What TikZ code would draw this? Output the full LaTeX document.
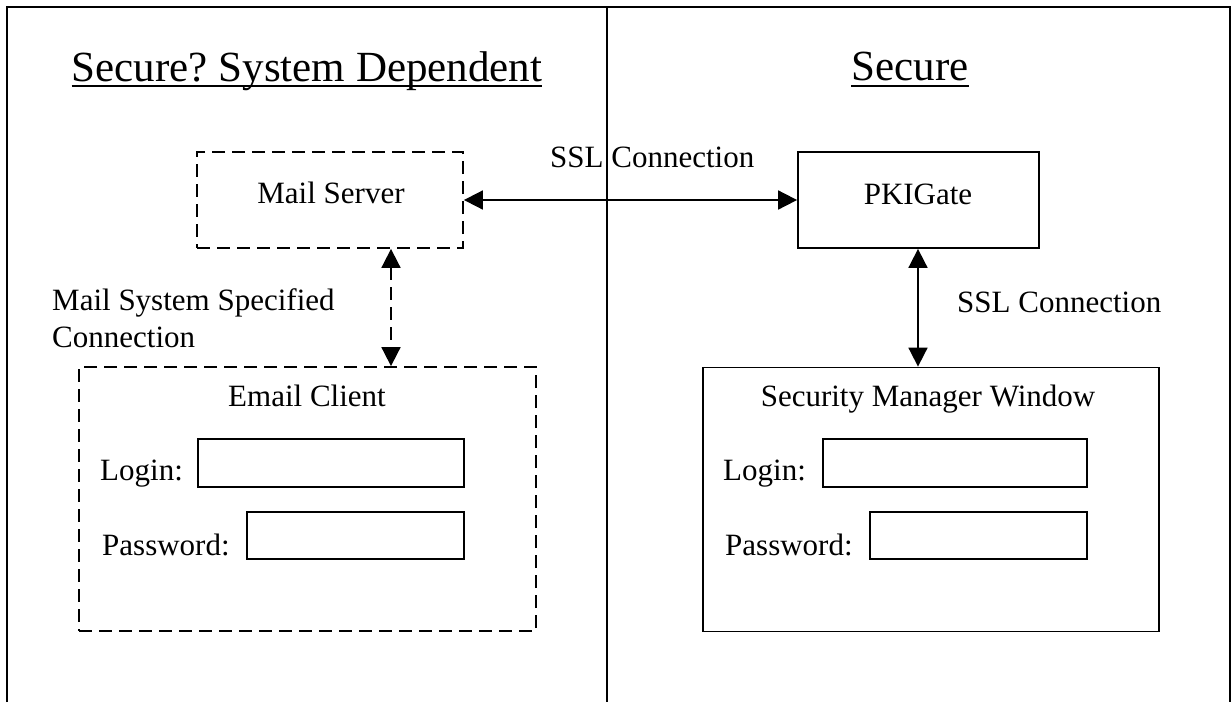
\documentclass[tikz,border=0pt]{standalone}
\usepackage{fontspec}
\setmainfont{Liberation Serif}
\usetikzlibrary{arrows.meta}
\frenchspacing

\tikzset{
  frameline/.style={line width=1.8pt},
  box/.style={draw, line width=1.8pt, rectangle, inner sep=0pt},
  dashbox/.style={box, dash pattern=on 13pt off 7pt},
  field/.style={draw, line width=1.8pt, rectangle, inner sep=0pt},
  conn/.style={line width=1.8pt, {Triangle[length=19pt,width=19pt]}-{Triangle[length=19pt,width=19pt]}},
  dashconn/.style={conn, dash pattern=on 13pt off 7pt},
  bodytext/.style={inner sep=0pt, font=\fontsize{31}{37}\selectfont},
  titletext/.style={inner sep=0pt, font=\fontsize{43}{50}\selectfont},
}

\begin{document}
\begin{tikzpicture}[x=1pt, y=-1pt]
  \useasboundingbox (0,0) rectangle (1231,702);

  % outer frame, open at the bottom, and the divider between the halves
  \draw[frameline] (7,702) -- (7,7) -- (1230,7) -- (1230,702);
  \draw[frameline] (607,7) -- (607,702);

  % headings
  \node[titletext, anchor=base] (t1) at (307,81) {Secure? System Dependent};
  \draw[line width=1.8pt] ([yshift=-5pt]t1.base west) -- ([yshift=-5pt]t1.base east);
  \node[titletext, anchor=base] (t2) at (910,80) {Secure};
  \draw[line width=1.8pt] ([yshift=-6pt]t2.base west) -- ([yshift=-6pt]t2.base east);

  % upper boxes
  \node[dashbox, minimum width=266pt, minimum height=96pt] (mail) at (330,200) {};
  \node[bodytext, anchor=base] (mailtxt) at (331,203) {Mail Server};
  \node[box, minimum width=241pt, minimum height=96pt] (pki) at (918.5,200) {};
  \node[bodytext, anchor=base] (pkitxt) at (918,204) {PKIGate};

  % login windows
  \node[dashbox, minimum width=457pt, minimum height=264pt] (email) at (307.5,499) {};
  \node[bodytext, anchor=base] (emailtxt) at (307,406) {Email Client};
  \node[bodytext, anchor=base west] (lg1) at (100,480) {Login:};
  \node[field, minimum width=266pt, minimum height=48pt] (lgf1) at (331,463) {};
  \node[bodytext, anchor=base west] (pw1) at (102,555) {Password:};
  \node[field, minimum width=217pt, minimum height=47pt] (pwf1) at (355.5,535.5) {};

  \node[box, minimum width=456pt, minimum height=264pt] (smw) at (931,499.5) {};
  \node[bodytext, anchor=base] (smwtxt) at (928,406) {Security Manager Window};
  \node[bodytext, anchor=base west] (lg2) at (723,480) {Login:};
  \node[field, minimum width=264pt, minimum height=48pt] (lgf2) at (955,463) {};
  \node[bodytext, anchor=base west] (pw2) at (725,555) {Password:};
  \node[field, minimum width=217pt, minimum height=47pt] (pwf2) at (978.5,535.5) {};

  % connections
  \draw[conn] (mail.east) -- (pki.west);
  \node[bodytext, anchor=base west] (ssl1) at (550,167) {SSL Connection};

  \coordinate (lx) at (391,0);
  \draw[dashconn] (mail.south -| lx) -- (email.north -| lx);
  \node[bodytext, anchor=base west] (msc1) at (52,310) {Mail System Specified};
  \node[bodytext, anchor=base west] (msc2) at (52,347) {Connection};

  \coordinate (rx) at (918,0);
  \draw[conn] (pki.south -| rx) -- (smw.north -| rx);
  \node[bodytext, anchor=base west] (ssl2) at (957,312) {SSL Connection};
\end{tikzpicture}
\end{document}
